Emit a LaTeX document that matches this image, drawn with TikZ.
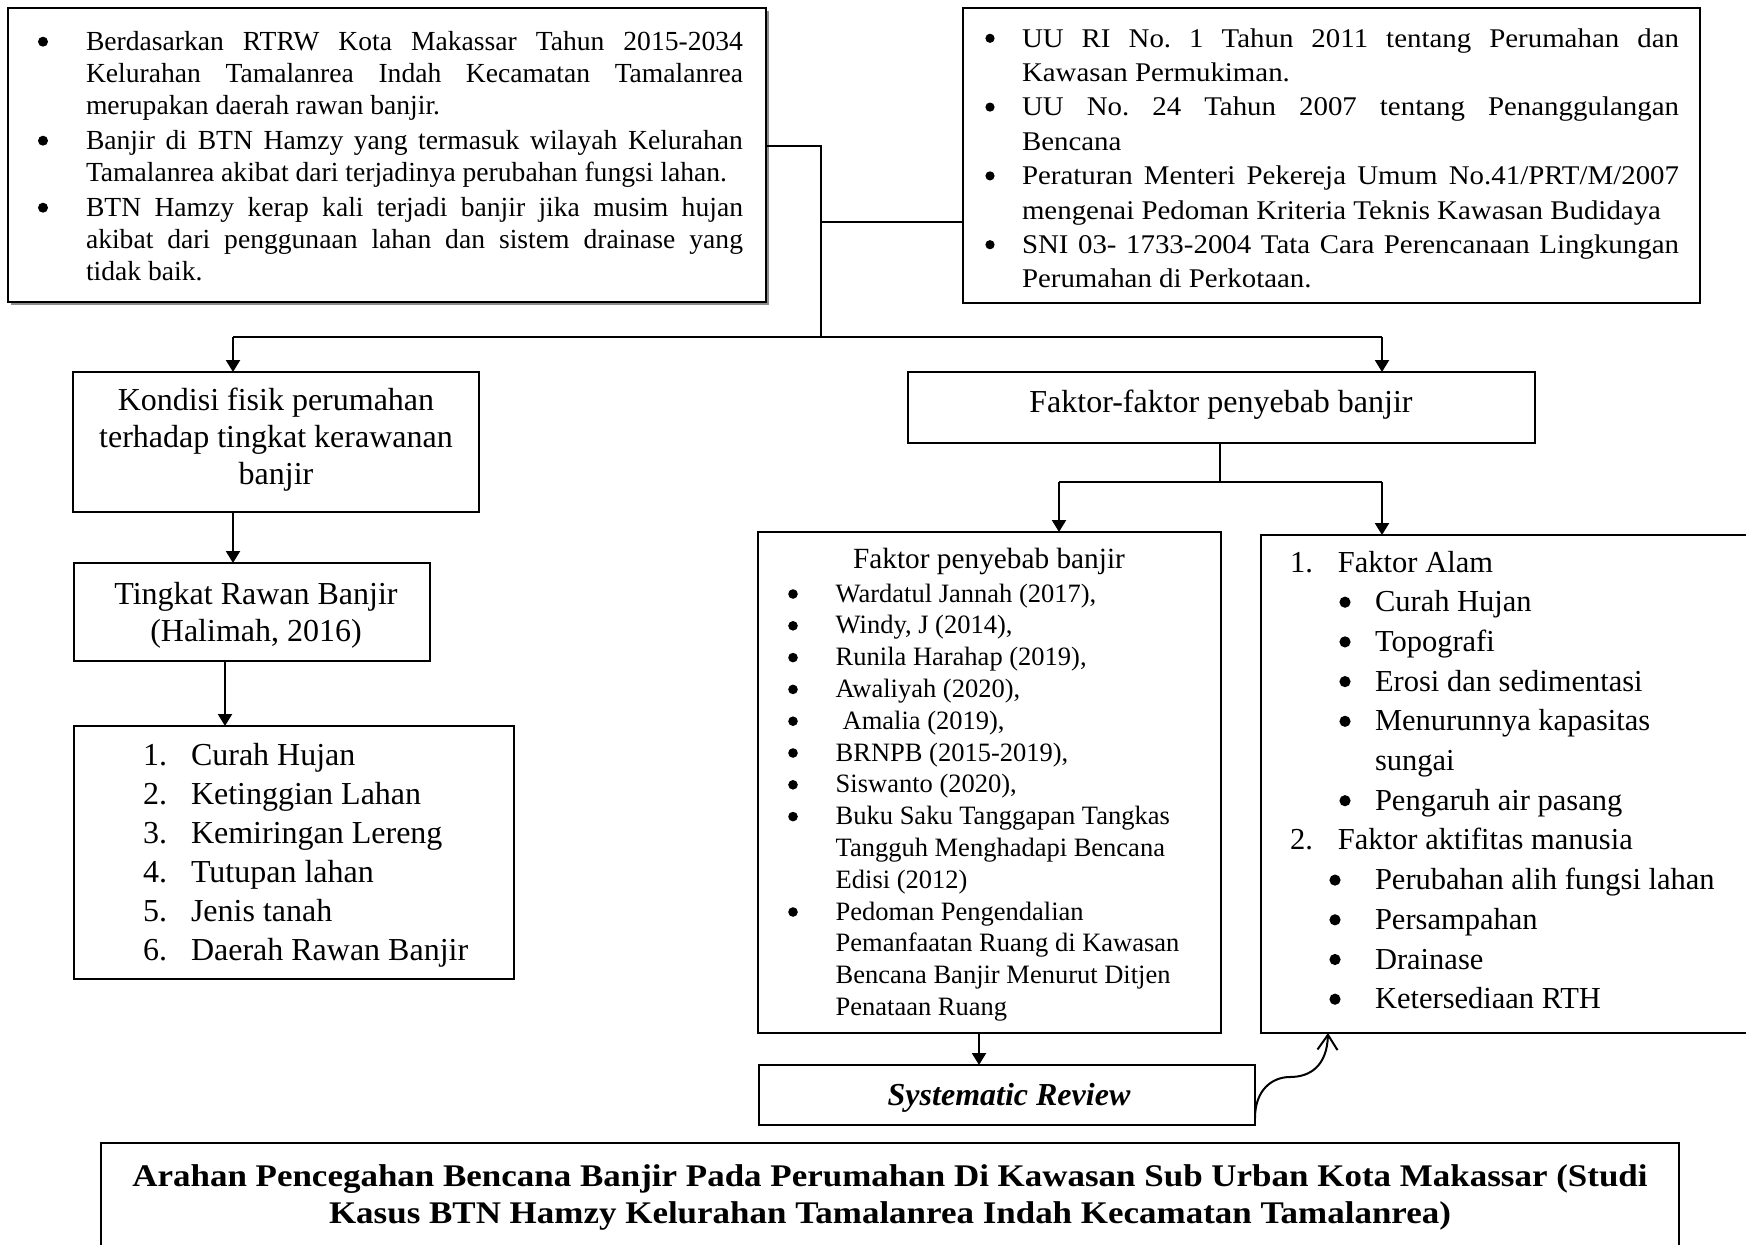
\documentclass[tikz,border=0pt]{standalone}
\usepackage{fontspec}
\setmainfont{Liberation Serif}
\newfontfamily\trfont[FakeStretch=1.07]{Liberation Serif}
\newfontfamily\ttlfont[FakeStretch=1.11]{Liberation Serif}
\usetikzlibrary{arrows.meta,calc,shadows}
\begin{document}
\begin{tikzpicture}[x=1pt,y=-1pt,
  box/.style={draw, line width=1.6pt, fill=white, inner sep=0pt, outer sep=0pt},
  txt/.style={inner sep=0pt, outer sep=0pt, font=\frenchspacing},
  thin/.style={line width=1.6pt},
  conn/.style={line width=2.6pt},
  arr/.style={line width=2.2pt, -{Triangle[length=12pt,width=14pt]}},
  dot/.style={fill=black},
]
\useasboundingbox (0,0) rectangle (1746,1245);
\fill[white] (0,0) rectangle (1746,1245);

% boxes
\node[box, line width=2.3pt, minimum width=758pt, minimum height=294pt,
      drop shadow={shadow xshift=3pt, shadow yshift=-3pt, opacity=0.45, fill=black}] (tl) at (387,155) {};
\node[box, minimum width=737pt, minimum height=295pt] (tr) at (1331.5,155.5) {};
\node[box, minimum width=406pt, minimum height=140pt] (kondisi) at (276,442) {};
\node[box, minimum width=356pt, minimum height=98pt] (tingkat) at (252,612) {};
\node[box, minimum width=440pt, minimum height=253pt] (list) at (294,852.5) {};
\node[box, minimum width=627pt, minimum height=71pt] (faktor) at (1221.5,407.5) {};
\node[box, minimum width=463pt, minimum height=501pt] (refs) at (989.5,782.5) {};
\node[box, minimum width=499pt, minimum height=498pt] (alam) at (1510.5,784) {};
\node[box, minimum width=496pt, minimum height=60pt] (sr) at (1007,1095) {};
\node[box, line width=2pt, minimum width=1578pt, minimum height=140pt] (title) at (890,1213) {};

% texts
\node[txt, anchor=base west] (tltext) at (86,50) {\parbox[t]{657pt}{\frenchspacing\fontsize{27.6pt}{32pt}\selectfont\lineskiplimit=-100pt\noindent
\makebox[\linewidth][s]{Berdasarkan RTRW Kota Makassar Tahun 2015-2034}\\
\makebox[\linewidth][s]{Kelurahan Tamalanrea Indah Kecamatan Tamalanrea}\\
merupakan daerah rawan banjir.\\[3pt]
\makebox[\linewidth][s]{Banjir di BTN Hamzy yang termasuk wilayah Kelurahan}\\
Tamalanrea akibat dari terjadinya perubahan fungsi lahan.\\[3pt]
\makebox[\linewidth][s]{BTN Hamzy kerap kali terjadi banjir jika musim hujan}\\
\makebox[\linewidth][s]{akibat dari penggunaan lahan dan sistem drainase yang}\\
tidak baik.}};
\foreach \yy in {41.7,140.7,207.7} \fill[dot] (43,\yy) circle[radius=5pt];

\node[txt, anchor=base west] (trtext) at (1022,47) {\parbox[t]{657pt}{\frenchspacing\trfont\fontsize{27pt}{34.4pt}\selectfont\lineskiplimit=-100pt\noindent
\makebox[\linewidth][s]{UU RI No. 1 Tahun 2011 tentang Perumahan dan}\\
Kawasan Permukiman.\\
\makebox[\linewidth][s]{UU No. 24 Tahun 2007 tentang Penanggulangan}\\
Bencana\\
\makebox[\linewidth][s]{Peraturan Menteri Pekereja Umum No.41/PRT/M/2007}\\
mengenai Pedoman Kriteria Teknis Kawasan Budidaya\\
\makebox[\linewidth][s]{SNI 03- 1733-2004 Tata Cara Perencanaan Lingkungan}\\
Perumahan di Perkotaan.}};
\foreach \yy in {38.3,107.1,175.9,244.7} \fill[dot] (990,\yy) circle[radius=4.6pt];

\node[txt, anchor=base] (ktext) at (276,410) {\parbox[t]{400pt}{\centering\fontsize{32pt}{37pt}\selectfont\lineskiplimit=-100pt
Kondisi fisik perumahan\\terhadap tingkat kerawanan\\banjir}};

\node[txt, anchor=base] (ttext) at (256,604) {\parbox[t]{350pt}{\centering\fontsize{32pt}{37pt}\selectfont\lineskiplimit=-100pt
Tingkat Rawan Banjir\\(Halimah, 2016)}};

\node[txt, anchor=base west] (ltext) at (143,765) {\parbox[t]{360pt}{\fontsize{32pt}{39pt}\selectfont\lineskiplimit=-100pt\noindent
\makebox[48pt][l]{1.}Curah Hujan\\
\makebox[48pt][l]{2.}Ketinggian Lahan\\
\makebox[48pt][l]{3.}Kemiringan Lereng\\
\makebox[48pt][l]{4.}Tutupan lahan\\
\makebox[48pt][l]{5.}Jenis tanah\\
\makebox[48pt][l]{6.}Daerah Rawan Banjir}};

\node[txt, anchor=base] (ftext) at (1221,412) {\fontsize{32pt}{37pt}\selectfont Faktor-faktor penyebab banjir};

\node[txt, anchor=base] (rhead) at (989,568) {\fontsize{29.3pt}{34pt}\selectfont Faktor penyebab banjir};
\node[txt, anchor=base west] (rtext) at (835.7,602) {\parbox[t]{380pt}{\fontsize{26.5pt}{31.8pt}\selectfont\lineskiplimit=-100pt\noindent
Wardatul Jannah (2017),\\
Windy, J (2014),\\
Runila Harahap (2019),\\
Awaliyah (2020),\\
\hspace*{7pt}Amalia (2019),\\
BRNPB (2015-2019),\\
Siswanto (2020),\\
Buku Saku Tanggapan Tangkas\\
Tangguh Menghadapi Bencana\\
Edisi (2012)\\
Pedoman Pengendalian\\
Pemanfaatan Ruang di Kawasan\\
Bencana Banjir Menurut Ditjen\\
Penataan Ruang}};
\foreach \k in {0,1,2,3,4,5,6,7,10} \fill[dot] (793,{602+\k*31.8-8}) circle[radius=4.8pt];

\node[txt, anchor=base west] (atext) at (1290,572) {\parbox[t]{460pt}{\fontsize{30.5pt}{39.7pt}\selectfont\lineskiplimit=-100pt\noindent
\makebox[48pt][l]{1.}Faktor Alam\\
\hspace*{85pt}Curah Hujan\\
\hspace*{85pt}Topografi\\
\hspace*{85pt}Erosi dan sedimentasi\\
\hspace*{85pt}Menurunnya kapasitas\\
\hspace*{85pt}sungai\\
\hspace*{85pt}Pengaruh air pasang\\
\makebox[48pt][l]{2.}Faktor aktifitas manusia\\
\hspace*{85pt}Perubahan alih fungsi lahan\\
\hspace*{85pt}Persampahan\\
\hspace*{85pt}Drainase\\
\hspace*{85pt}Ketersediaan RTH}};
\foreach \k in {1,2,3,4,6} \fill[dot] (1345,{572+\k*39.7-9.5}) circle[radius=5.6pt];
\foreach \k in {8,9,10,11} \fill[dot] (1335,{572+\k*39.7-9.5}) circle[radius=5.6pt];

\node[txt, anchor=base] (srtext) at (1009,1105) {\fontsize{32pt}{37pt}\selectfont\bfseries\itshape Systematic Review};

\node[txt, anchor=base] (titletext) at (890,1186) {\parbox[t]{1570pt}{\centering\ttlfont\bfseries\fontsize{31.5pt}{37pt}\selectfont\lineskiplimit=-100pt
Arahan Pencegahan Bencana Banjir Pada Perumahan Di Kawasan Sub Urban Kota Makassar (Studi\\
Kasus BTN Hamzy Kelurahan Tamalanrea Indah Kecamatan Tamalanrea)}};

% connectors
\coordinate (j1) at (821,146);
\coordinate (j2) at (821,337);
\coordinate (j3) at (821,222);
\draw[thin] (tl.east |- j1) -- (j1) -- (j2);
\draw[thin] (j3) -- (tr.west |- j3);
\coordinate (hl) at (233,337);
\coordinate (hr) at (1382,337);
\draw[conn] (hl) -- (hr);
\draw[arr] (hl) -- (hl |- kondisi.north);
\draw[arr] (hr) -- (hr |- faktor.north);
\draw[arr] (hl |- kondisi.south) -- (hl |- tingkat.north);
\coordinate (c2) at (225,0);
\draw[arr] (c2 |- tingkat.south) -- (c2 |- list.north);
\coordinate (sp) at (1220,482);
\draw[thin] (sp |- faktor.south) -- (sp);
\coordinate (sl) at (1059,482);
\coordinate (sr2) at (1382,482);
\draw[conn] (sl) -- (sr2);
\draw[arr] (sl) -- (sl |- refs.north);
\draw[arr] (sr2) -- (sr2 |- alam.north);
\coordinate (c3) at (979,0);
\draw[arr] (c3 |- refs.south) -- (c3 |- sr.north);
\coordinate (c4) at (1328,0);
\draw[line width=2pt, -{Straight Barb[length=15pt,width=20pt]}]
  ($(sr.south east)+(0,-7)$) .. controls (1255,1090) and (1272,1077) .. (1290,1077)
  .. controls (1310,1077) and (1327,1066) .. (c4 |- alam.south);
\end{tikzpicture}
\end{document}
